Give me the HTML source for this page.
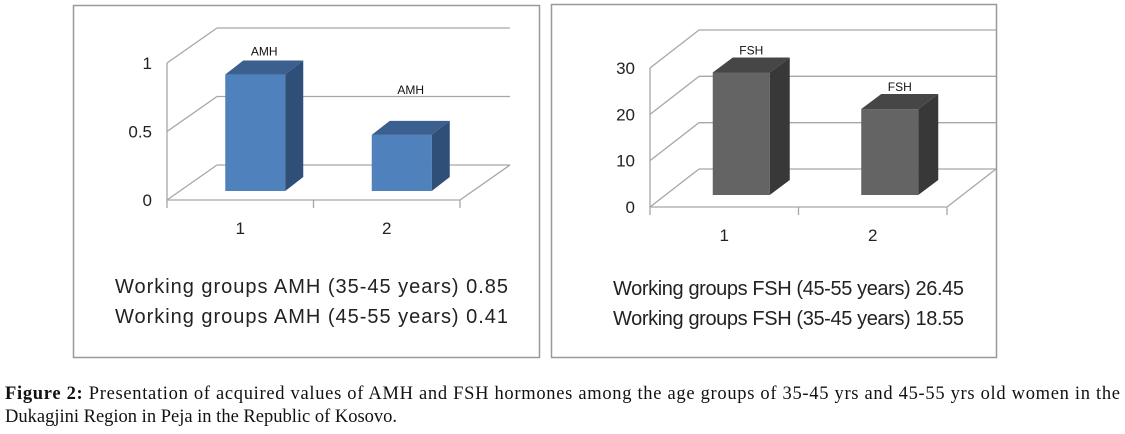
<!DOCTYPE html>
<html><head><meta charset="utf-8"><style>
html,body{margin:0;padding:0;background:#fff;}
svg{display:block;}
</style></head><body>
<svg id="fig" width="1125" height="434" viewBox="0 0 1125 434" xmlns="http://www.w3.org/2000/svg">
<rect x="73.5" y="5.5" width="466" height="352" fill="#fff" stroke="#999" stroke-width="1.5"/>
<rect x="551.5" y="4.5" width="445" height="353" fill="#fff" stroke="#999" stroke-width="1.5"/>
<g id="amh"></g>
<g id="fsh"></g>
<g font-family="'Liberation Sans', sans-serif" font-size="20" fill="#222">
<text x="115" y="293" textLength="393">Working groups  AMH (35-45 years) 0.85</text>
<text x="115" y="323" textLength="393">Working groups  AMH (45-55 years) 0.41</text>
<text x="613" y="295" textLength="351">Working groups  FSH (45-55 years) 26.45</text>
<text x="613" y="325" textLength="351">Working groups  FSH (35-45 years) 18.55</text>
</g>
<g font-family="'Liberation Serif', serif" font-size="18.5" fill="#111">
<text x="5" y="399" textLength="1115" lengthAdjust="spacing"><tspan font-weight="bold">Figure 2:</tspan> Presentation of acquired values of AMH and FSH hormones among the age groups of 35-45 yrs and 45-55 yrs old women in the</text>
<text x="5" y="422">Dukagjini Region in Peja in the Republic of Kosovo.</text>
</g>
</svg>
<script>
const amhCategories = ["1", "2"];
const amhValues = [0.85, 0.41];
const amhTicks = [0, 0.5, 1];
const amhTickLabels = ["0", "0.5", "1"];
const amhBarLabels = ["AMH", "AMH"];
const fshCategories = ["1", "2"];
const fshValues = [26.45, 18.55];
const fshTicks = [0, 10, 20, 30];
const fshTickLabels = ["0", "10", "20", "30"];
const fshBarLabels = ["FSH", "FSH"];

const NS = "http://www.w3.org/2000/svg";
function mk(parent, tag, attrs) {
  const e = document.createElementNS(NS, tag);
  for (const k in attrs) e.setAttribute(k, attrs[k]);
  parent.appendChild(e);
  return e;
}
function drawChart(g, cfg, cats, vals, ticks, tickLabels, barLabels, prefix) {
  const yS = v => cfg.y0 - (v - ticks[0]) / (ticks[ticks.length - 1] - ticks[0]) * cfg.h;
  const catW = (cfg.x1 - cfg.x0) / cats.length;
  const xC = i => cfg.x0 + catW * (i + 0.5);
  const grid = "#a6a6a6";
  ticks.forEach((t, i) => {
    const y = yS(t);
    const l1 = mk(g, "line", {x1: cfg.x0, y1: y, x2: cfg.x0 + cfg.dx, y2: y + cfg.dy, stroke: grid, "stroke-width": 1.3});
    
    
    const l2 = mk(g, "line", {x1: cfg.x0 + cfg.dx, y1: y + cfg.dy, x2: cfg.x1 + cfg.dx, y2: y + cfg.dy, stroke: grid, "stroke-width": 1.3});
    
    
    const tl = mk(g, "text", {x: cfg.x0 - 15, y: y + 6, "text-anchor": "end", "font-size": 17, fill: "#222", "font-family": "'Liberation Sans', sans-serif"});
    tl.textContent = tickLabels[i];
    
    
  });
  const ax = mk(g, "line", {x1: cfg.x0, y1: yS(ticks[ticks.length - 1]), x2: cfg.x0, y2: cfg.y0, stroke: grid, "stroke-width": 1.3});
  
  
  const fl = mk(g, "polyline", {points: `${cfg.x0},${cfg.y0} ${cfg.x1},${cfg.y0} ${cfg.x1 + cfg.dx},${cfg.y0 + cfg.dy}`, fill: "none", stroke: grid, "stroke-width": 1.3});
  
  
  for (let i = 0; i <= cats.length; i++) {
    const x = cfg.x0 + catW * i;
    const tk = mk(g, "line", {x1: x, y1: cfg.y0, x2: x, y2: cfg.y0 + 8, stroke: grid, "stroke-width": 1.3});
    
    
  }
  cats.forEach((c, i) => {
    const xl = mk(g, "text", {x: xC(i), y: cfg.y0 + 34, "text-anchor": "middle", "font-size": 17, fill: "#222", "font-family": "'Liberation Sans', sans-serif"});
    xl.textContent = c;
    
    
    const bx = xC(i) + cfg.bdx - cfg.bw / 2, by = cfg.y0 + cfg.bdy;
    const top = yS(vals[i]) + cfg.bdy;
    const bar = mk(g, "g", {});
    
    
    mk(bar, "rect", {x: bx, y: top, width: cfg.bw, height: by - top, fill: cfg.front});
    mk(bar, "polygon", {points: `${bx},${top} ${bx + cfg.dd},${top - cfg.ddy} ${bx + cfg.bw + cfg.dd},${top - cfg.ddy} ${bx + cfg.bw},${top}`, fill: cfg.top});
    mk(bar, "polygon", {points: `${bx + cfg.bw},${top} ${bx + cfg.bw + cfg.dd},${top - cfg.ddy} ${bx + cfg.bw + cfg.dd},${by - cfg.ddy} ${bx + cfg.bw},${by}`, fill: cfg.side});
    const bl = mk(g, "text", {x: bx + cfg.bw / 2 + cfg.dd / 2, y: cfg.labY[i], "text-anchor": "middle", "font-size": 12, fill: "#111", "font-family": "'Liberation Sans', sans-serif"});
    bl.textContent = barLabels[i];
    
    
  });
}
const amhG = document.getElementById("amh");
const fshG = document.getElementById("fsh");
const amhTopY = v => 200 - v * 137;
const fshTopY = v => 207 - v * 139 / 30;
drawChart(amhG, {x0: 167, x1: 460, y0: 200, h: 137, dx: 50, dy: -35, bw: 60, bdx: 15, bdy: -9, dd: 18, ddy: 14,
  front: "#4f81bd", top: "#3b5f8e", side: "#2f4e78", labY: amhValues.map((v, i) => Math.min(amhTopY(v) - 28, i ? 94 : 999))},
  amhCategories, amhValues, amhTicks, amhTickLabels, amhBarLabels, "amh");
drawChart(fshG, {x0: 650, x1: 947, y0: 207, h: 139, dx: 49, dy: -38, bw: 57, bdx: 17, bdy: -12, dd: 20, ddy: 15,
  front: "#646464", top: "#464646", side: "#383838", labY: fshValues.map(v => fshTopY(v) - 30)},
  fshCategories, fshValues, fshTicks, fshTickLabels, fshBarLabels, "fsh");
</script>
</body></html>
